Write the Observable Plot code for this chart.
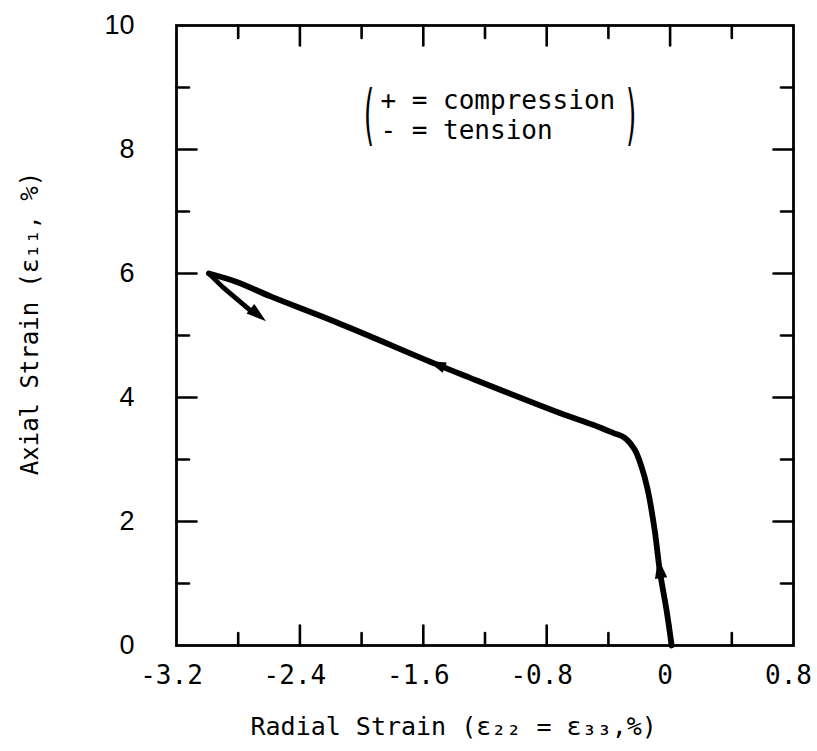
<!DOCTYPE html>
<html><head><meta charset="utf-8">
<script src="https://cdn.jsdelivr.net/npm/d3@7"></script>
<script src="https://cdn.jsdelivr.net/npm/@observablehq/plot@0.6"></script>
<style>html,body{margin:0;padding:0;background:#fff;} svg{display:block;}</style>
</head><body>
<script>
// ---- data ----
// loading path: radial strain (x, %) vs axial strain (y, %)
const loadX = [0.01, -0.02, -0.067, -0.10, -0.145, -0.185, -0.23, -0.294, -0.37, -0.50, -0.715, -1.30, -1.51, -2.16, -2.59, -2.805, -2.99];
const loadY = [0.00, 0.52, 1.21, 1.86, 2.51, 2.88, 3.16, 3.35, 3.43, 3.56, 3.75, 4.32, 4.53, 5.21, 5.63, 5.86, 6.00];
// unloading branch from the peak
const unloadX = [-2.99, -2.90, -2.72, -2.69];
const unloadY = [6.00, 5.78, 5.40, 5.35];
// arrowheads: location and direction of travel (data units)
const arrowX = [-0.067, -1.51, -2.675];
const arrowY = [1.23, 4.53, 5.34];
const arrowDX = [-0.08, -1.0, 0.37];
const arrowDY = [1.34, 1.0, -0.74];
// axes
const xTicks = [-3.2, -2.4, -1.6, -0.8, 0, 0.8];
const xTickLabels = ["-3.2", "-2.4", "-1.6", "-0.8", "0", "0.8"];
const xMajor = [-2.4, -1.6, -0.8, 0];
const xMinor = [-2.8, -2.0, -1.2, -0.4, 0.4];
const yTicks = [0, 2, 4, 6, 8, 10];
const yTickLabels = ["0", "2", "4", "6", "8", "10"];
const yMajor = [2, 4, 6, 8];
const yMinor = [1, 3, 5, 7, 9];
const xTitle = "Radial Strain (ε₂₂ = ε₃₃,%)";
const yTitle = "Axial Strain (ε₁₁, %)";
const legendLines = ["+ = compression", "- = tension"];

// ---- layout ----
const W = 817, H = 751, ML = 176, MR = 24, MT = 25, MB = 106;
const kx = (W - ML - MR) / 4, ky = (H - MT - MB) / 10;
const mono = "DejaVu Sans Mono";

const loadPath = loadX.map((x, i) => ({x, y: loadY[i]}));
const unloadPath = unloadX.map((x, i) => ({x, y: unloadY[i]}));
const arrows = arrowX.map((x, i) => ({
  x, y: arrowY[i],
  angle: Math.atan2(arrowDX[i] * kx, arrowDY[i] * ky) * 180 / Math.PI,
  i
}));

const tickShape = {draw(ctx, l) { ctx.moveTo(0, 0); ctx.lineTo(0, -l); }};
const headSymbol = {draw(ctx, size) {
  const r = Math.sqrt(size / Math.PI);
  ctx.moveTo(0, -1.1 * r); ctx.lineTo(0.62 * r, 0.9 * r); ctx.lineTo(-0.62 * r, 0.9 * r); ctx.closePath();
}};

function ticks(data, side, len) {
  const rot = {bottom: 0, top: 180, left: 90, right: -90}[side];
  const horiz = side === "bottom" || side === "top";
  return Plot.vector(data, {
    ...(horiz ? {x: d => d} : {y: d => d}),
    frameAnchor: side, length: len, rotate: rot, anchor: "start",
    shape: tickShape, stroke: "black", strokeWidth: 2.6
  });
}

const svg = Plot.plot({
  width: W, height: H,
  marginLeft: ML, marginRight: MR, marginTop: MT, marginBottom: MB,
  x: {domain: [-3.2, 0.8], axis: null},
  y: {domain: [0, 10], axis: null},
  style: {background: "white", color: "black"},
  marks: [
    Plot.frame({stroke: "black", strokeWidth: 2.8}),
    ticks(xMajor, "bottom", 20), ticks(xMinor, "bottom", 12.5),
    ticks(xMajor, "top", 20), ticks(xMinor, "top", 12.5),
    ticks(yMajor, "left", 20), ticks(yMinor, "left", 12.5),
    ticks(yMajor, "right", 20), ticks(yMinor, "right", 12.5),
    Plot.text(xTicks, {x: d => d, frameAnchor: "bottom", text: (d, i) => xTickLabels[i],
      dy: 38, dx: -5, textAnchor: "middle", fontSize: 26, fontFamily: mono, fill: "black"}),
    Plot.text(yTicks, {y: d => d, frameAnchor: "left", text: (d, i) => yTickLabels[i],
      dx: -42, textAnchor: "end", fontSize: 27, fontFamily: "Liberation Sans", fill: "black"}),
    Plot.text([xTitle], {frameAnchor: "bottom-left", dx: 74, dy: 89, textAnchor: "start",
      fontSize: 25, fontFamily: mono, fill: "black"}),
    Plot.text([yTitle], {frameAnchor: "left", rotate: -90, dx: -146, dy: -12, textAnchor: "middle",
      fontSize: 24, fontFamily: mono, fill: "black"}),
    Plot.line(loadPath, {x: "x", y: "y", curve: "catmull-rom", stroke: "black", strokeWidth: 5.8,
      strokeLinecap: "round", strokeLinejoin: "round"}),
    Plot.line(unloadPath, {x: "x", y: "y", stroke: "black", strokeWidth: 4.8,
      strokeLinecap: "round", strokeLinejoin: "round"}),
    Plot.dot(arrows.filter(d => d.i !== 1), {x: "x", y: "y", rotate: "angle", symbol: headSymbol, r: 10, fill: "black", stroke: "none"}),
    Plot.dot(arrows.filter(d => d.i === 1), {x: "x", y: "y", rotate: "angle", symbol: headSymbol, r: 9, fill: "black", stroke: "none"}),
    Plot.text(legendLines, {x: -1.878, y: (d, i) => [8.79, 8.31][i], text: d => d, textAnchor: "start",
      fontSize: 26, fontFamily: mono, fill: "black"}),
    Plot.text(["(", ")"], {x: (d, i) => [-1.955, -0.25][i], y: 8.55, text: d => d, textAnchor: "middle",
      fontSize: 26, fontFamily: mono, fill: "black"})
  ]
});
document.body.append(svg);
// stretch the legend brackets vertically so each spans both lines
svg.querySelectorAll("text").forEach(t => {
  if (t.textContent === "(" || t.textContent === ")") {
    const b = t.getBBox();
    const cx = b.x + b.width / 2, cy = b.y + b.height / 2;
    const old = t.getAttribute("transform") || "";
    t.setAttribute("transform", `${old} translate(${cx},${cy}) scale(1,2.5) translate(${-cx},${-cy})`);
  }
});
</script>
</body></html>
